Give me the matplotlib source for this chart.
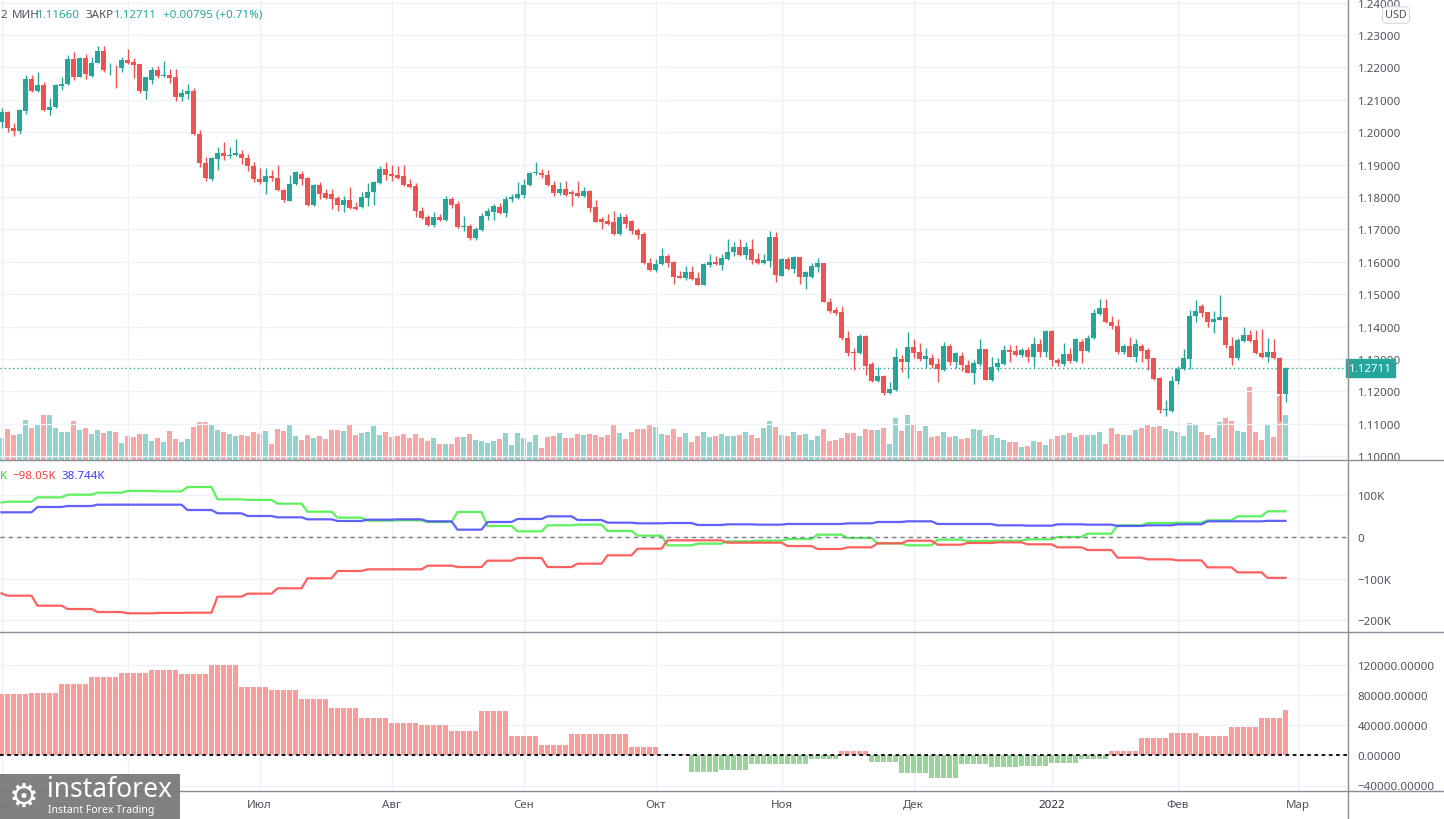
import matplotlib
matplotlib.use('Agg')
import matplotlib.pyplot as plt
from matplotlib.lines import Line2D
from matplotlib.patches import Rectangle
import numpy as np
import pandas as pd

plt.rcParams['font.family'] = ['Noto Sans', 'DejaVu Sans']

# EUR/USD daily bars, 3 May 2021 .. 25 Feb 2022
start_day = '2021-05-03'
opens = [
    1.2030, 1.2063, 1.2014, 1.2003, 1.2065, 1.2163, 1.2127, 1.2147, 1.2068, 1.2077,
    1.2142, 1.2149, 1.2225, 1.2170, 1.2228, 1.2173, 1.2215, 1.2250, 1.2191, 1.2193,
    1.2198, 1.2224, 1.2216, 1.2209, 1.2127, 1.2161, 1.2191, 1.2173, 1.2178, 1.2169,
    1.2108, 1.2119, 1.2126, 1.1995, 1.1906, 1.1855, 1.1917, 1.1937, 1.1926, 1.1929,
    1.1933, 1.1921, 1.1897, 1.1857, 1.1846, 1.1866, 1.1860, 1.1822, 1.1789, 1.1840,
    1.1870, 1.1860, 1.1775, 1.1836, 1.1811, 1.1808, 1.1797, 1.1775, 1.1791, 1.1770,
    1.1770, 1.1798, 1.1816, 1.1842, 1.1885, 1.1870, 1.1867, 1.1864, 1.1840, 1.1833,
    1.1758, 1.1737, 1.1715, 1.1737, 1.1729, 1.1795, 1.1777, 1.1707, 1.1709, 1.1672,
    1.1698, 1.1741, 1.1754, 1.1770, 1.1751, 1.1793, 1.1797, 1.1806, 1.1836, 1.1873,
    1.1875, 1.1869, 1.1838, 1.1813, 1.1826, 1.1815, 1.1811, 1.1803, 1.1818, 1.1768,
    1.1732, 1.1726, 1.1722, 1.1686, 1.1739, 1.1727, 1.1697, 1.1685, 1.1597, 1.1575,
    1.1592, 1.1619, 1.1598, 1.1556, 1.1551, 1.1570, 1.1549, 1.1529, 1.1590, 1.1598,
    1.1590, 1.1609, 1.1629, 1.1647, 1.1621, 1.1638, 1.1608, 1.1595, 1.1603, 1.1678,
    1.1557, 1.1608, 1.1578, 1.1614, 1.1553, 1.1554, 1.1583, 1.1595, 1.1477, 1.1451,
    1.1446, 1.1366, 1.1321, 1.1318, 1.1372, 1.1286, 1.1232, 1.1249, 1.1194, 1.1204,
    1.1300, 1.1292, 1.1338, 1.1321, 1.1300, 1.1302, 1.1285, 1.1266, 1.1341, 1.1292,
    1.1310, 1.1283, 1.1256, 1.1284, 1.1330, 1.1235, 1.1276, 1.1284, 1.1328, 1.1325,
    1.1312, 1.1328, 1.1306, 1.1345, 1.1323, 1.1387, 1.1297, 1.1286, 1.1314, 1.1294,
    1.1352, 1.1325, 1.1364, 1.1439, 1.1457, 1.1413, 1.1403, 1.1321, 1.1341, 1.1307,
    1.1341, 1.1328, 1.1302, 1.1242, 1.1142, 1.1139, 1.1232, 1.1269, 1.1300, 1.1434,
    1.1465, 1.1444, 1.1413, 1.1421, 1.1429, 1.1340, 1.1302, 1.1356, 1.1374, 1.1358,
    1.1318, 1.1305, 1.1323, 1.1302, 1.11916,
]
highs = [
    1.2076, 1.2065, 1.2027, 1.2073, 1.2176, 1.2178, 1.2185, 1.2156, 1.2107, 1.2150,
    1.2169, 1.2238, 1.2246, 1.2231, 1.2240, 1.2231, 1.2267, 1.2266, 1.2215, 1.2207,
    1.2233, 1.2256, 1.2228, 1.2211, 1.2170, 1.2202, 1.2204, 1.2220, 1.2195, 1.2194,
    1.2132, 1.2148, 1.2135, 1.2008, 1.1924, 1.1922, 1.1955, 1.1970, 1.1955, 1.1978,
    1.1945, 1.1934, 1.1909, 1.1888, 1.1888, 1.1883, 1.1898, 1.1824, 1.1867, 1.1881,
    1.1881, 1.1862, 1.1839, 1.1847, 1.1826, 1.1826, 1.1802, 1.1803, 1.1831, 1.1785,
    1.1816, 1.1842, 1.1849, 1.1895, 1.1909, 1.1899, 1.1896, 1.1900, 1.1857, 1.1842,
    1.1770, 1.1744, 1.1754, 1.1746, 1.1804, 1.1801, 1.1787, 1.1742, 1.1718, 1.1706,
    1.1752, 1.1765, 1.1777, 1.1782, 1.1804, 1.1810, 1.1845, 1.1857, 1.1878, 1.1908,
    1.1886, 1.1883, 1.1850, 1.1845, 1.1850, 1.1821, 1.1849, 1.1831, 1.1821, 1.1790,
    1.1737, 1.1749, 1.1756, 1.1752, 1.1749, 1.1729, 1.1703, 1.1691, 1.1611, 1.1608,
    1.1642, 1.1623, 1.1601, 1.1573, 1.1587, 1.1588, 1.1570, 1.1597, 1.1623, 1.1619,
    1.1623, 1.1670, 1.1660, 1.1670, 1.1662, 1.1670, 1.1626, 1.1625, 1.1695, 1.1691,
    1.1611, 1.1614, 1.1618, 1.1616, 1.1573, 1.1595, 1.1611, 1.1597, 1.1488, 1.1459,
    1.1465, 1.1385, 1.1333, 1.1376, 1.1374, 1.1292, 1.1276, 1.1251, 1.1230, 1.1333,
    1.1312, 1.1382, 1.1361, 1.1348, 1.1333, 1.1314, 1.1302, 1.1354, 1.1345, 1.1323,
    1.1321, 1.1297, 1.1297, 1.1361, 1.1332, 1.1305, 1.1302, 1.1343, 1.1343, 1.1343,
    1.1333, 1.1338, 1.1369, 1.1361, 1.1390, 1.1390, 1.1302, 1.1348, 1.1333, 1.1366,
    1.1362, 1.1374, 1.1455, 1.1485, 1.1485, 1.1433, 1.1423, 1.1345, 1.1369, 1.1361,
    1.1345, 1.1333, 1.1304, 1.1244, 1.1175, 1.1248, 1.1279, 1.1330, 1.1452, 1.1482,
    1.1469, 1.1446, 1.1449, 1.1498, 1.1431, 1.1369, 1.1366, 1.1398, 1.1388, 1.1388,
    1.1393, 1.1366, 1.1361, 1.1307, 1.1274,
]
lows = [
    1.2014, 1.2001, 1.1988, 1.1994, 1.2056, 1.2125, 1.2125, 1.2066, 1.2053, 1.2074,
    1.2130, 1.2147, 1.2161, 1.2169, 1.2164, 1.2171, 1.2213, 1.2185, 1.2176, 1.2135,
    1.2186, 1.2211, 1.2166, 1.2120, 1.2104, 1.2148, 1.2166, 1.2171, 1.2151, 1.2096,
    1.2096, 1.2102, 1.1992, 1.1892, 1.1849, 1.1849, 1.1883, 1.1914, 1.1919, 1.1927,
    1.1903, 1.1880, 1.1847, 1.1839, 1.1809, 1.1850, 1.1819, 1.1785, 1.1787, 1.1838,
    1.1836, 1.1773, 1.1773, 1.1795, 1.1793, 1.1764, 1.1756, 1.1754, 1.1764, 1.1759,
    1.1766, 1.1773, 1.1775, 1.1839, 1.1852, 1.1849, 1.1857, 1.1834, 1.1828, 1.1737,
    1.1732, 1.1710, 1.1706, 1.1726, 1.1727, 1.1767, 1.1704, 1.1695, 1.1667, 1.1667,
    1.1695, 1.1729, 1.1729, 1.1749, 1.1739, 1.1785, 1.1795, 1.1797, 1.1834, 1.1869,
    1.1859, 1.1834, 1.1803, 1.1806, 1.1804, 1.1772, 1.1801, 1.1800, 1.1754, 1.1722,
    1.1701, 1.1715, 1.1684, 1.1684, 1.1703, 1.1687, 1.1670, 1.1593, 1.1573, 1.1567,
    1.1590, 1.1584, 1.1532, 1.1549, 1.1544, 1.1545, 1.1527, 1.1527, 1.1585, 1.1591,
    1.1575, 1.1607, 1.1619, 1.1619, 1.1609, 1.1592, 1.1593, 1.1593, 1.1583, 1.1539,
    1.1555, 1.1576, 1.1565, 1.1532, 1.1516, 1.1551, 1.1570, 1.1475, 1.1443, 1.1436,
    1.1359, 1.1310, 1.1266, 1.1314, 1.1251, 1.1230, 1.1228, 1.1189, 1.1192, 1.1202,
    1.1261, 1.1240, 1.1302, 1.1293, 1.1271, 1.1271, 1.1230, 1.1263, 1.1281, 1.1271,
    1.1263, 1.1256, 1.1223, 1.1279, 1.1235, 1.1233, 1.1263, 1.1282, 1.1292, 1.1310,
    1.1307, 1.1292, 1.1276, 1.1307, 1.1307, 1.1279, 1.1279, 1.1279, 1.1287, 1.1292,
    1.1287, 1.1323, 1.1362, 1.1436, 1.1411, 1.1393, 1.1314, 1.1314, 1.1305, 1.1292,
    1.1292, 1.1266, 1.1236, 1.1132, 1.1125, 1.1137, 1.1222, 1.1267, 1.1269, 1.1415,
    1.1431, 1.1400, 1.1379, 1.1419, 1.1333, 1.1281, 1.1297, 1.1354, 1.1354, 1.1316,
    1.1303, 1.1292, 1.1300, 1.1108, 1.1166,
]
closes = [
    1.2063, 1.2013, 1.2003, 1.2067, 1.2163, 1.2127, 1.2147, 1.2068, 1.2079, 1.2147,
    1.2150, 1.2225, 1.2170, 1.2228, 1.2179, 1.2215, 1.2250, 1.2191, 1.2193, 1.2191,
    1.2224, 1.2213, 1.2207, 1.2127, 1.2169, 1.2191, 1.2173, 1.2178, 1.2168, 1.2108,
    1.2120, 1.2126, 1.1994, 1.1904, 1.1860, 1.1919, 1.1937, 1.1926, 1.1931, 1.1937,
    1.1921, 1.1895, 1.1855, 1.1846, 1.1866, 1.1858, 1.1821, 1.1790, 1.1841, 1.1878,
    1.1857, 1.1775, 1.1836, 1.1809, 1.1798, 1.1795, 1.1775, 1.1791, 1.1767, 1.1764,
    1.1800, 1.1816, 1.1845, 1.1885, 1.1867, 1.1864, 1.1860, 1.1836, 1.1831, 1.1757,
    1.1734, 1.1715, 1.1737, 1.1728, 1.1795, 1.1775, 1.1706, 1.1710, 1.1672, 1.1701,
    1.1742, 1.1756, 1.1772, 1.1751, 1.1795, 1.1799, 1.1808, 1.1838, 1.1875, 1.1878,
    1.1867, 1.1836, 1.1813, 1.1826, 1.1806, 1.1810, 1.1803, 1.1818, 1.1765, 1.1724,
    1.1724, 1.1718, 1.1686, 1.1739, 1.1718, 1.1696, 1.1683, 1.1595, 1.1575, 1.1594,
    1.1619, 1.1596, 1.1554, 1.1551, 1.1570, 1.1547, 1.1529, 1.1592, 1.1598, 1.1593,
    1.1611, 1.1631, 1.1647, 1.1621, 1.1645, 1.1605, 1.1595, 1.1605, 1.1678, 1.1559,
    1.1608, 1.1578, 1.1614, 1.1554, 1.1568, 1.1587, 1.1595, 1.1477, 1.1448, 1.1443,
    1.1364, 1.1318, 1.1318, 1.1372, 1.1279, 1.1232, 1.1249, 1.1194, 1.1206, 1.1307,
    1.1292, 1.1338, 1.1318, 1.1300, 1.1308, 1.1281, 1.1269, 1.1341, 1.1292, 1.1318,
    1.1283, 1.1258, 1.1287, 1.1330, 1.1235, 1.1276, 1.1287, 1.1328, 1.1323, 1.1312,
    1.1327, 1.1307, 1.1345, 1.1323, 1.1387, 1.1297, 1.1287, 1.1314, 1.1295, 1.1362,
    1.1325, 1.1366, 1.1441, 1.1457, 1.1413, 1.1402, 1.1321, 1.1341, 1.1307, 1.1345,
    1.1325, 1.1300, 1.1238, 1.1142, 1.1147, 1.1233, 1.1269, 1.1302, 1.1434, 1.1449,
    1.1443, 1.1413, 1.1423, 1.1429, 1.1343, 1.1302, 1.1358, 1.1374, 1.1356, 1.1318,
    1.1305, 1.1323, 1.1302, 1.11916, 1.12711,
]
volume = [
    22, 31, 25, 26, 40, 32, 35, 45, 45, 32,
    28, 28, 39, 30, 32, 26, 30, 27, 29, 28,
    17, 24, 23, 26, 26, 19, 22, 18, 29, 21,
    18, 21, 33, 38, 38, 35, 30, 28, 26, 24,
    25, 24, 28, 26, 29, 16, 31, 29, 36, 24,
    20, 25, 22, 24, 21, 30, 30, 29, 36, 25,
    27, 28, 34, 25, 28, 23, 24, 26, 22, 26,
    22, 19, 22, 16, 16, 16, 23, 23, 26, 20,
    19, 17, 19, 21, 27, 15, 27, 22, 18, 25,
    12, 23, 24, 27, 22, 22, 26, 25, 26, 25,
    23, 25, 36, 27, 21, 28, 31, 31, 36, 33,
    26, 25, 31, 23, 27, 18, 24, 28, 23, 24,
    26, 24, 24, 25, 28, 25, 22, 32, 39, 33,
    25, 24, 28, 25, 26, 20, 24, 31, 19, 20,
    22, 27, 27, 24, 31, 30, 30, 32, 16, 42,
    29, 45, 35, 29, 34, 23, 24, 28, 23, 24,
    21, 22, 31, 30, 24, 25, 22, 20, 18, 18,
    13, 14, 19, 18, 15, 21, 24, 25, 27, 23,
    25, 25, 25, 28, 16, 32, 26, 25, 25, 30,
    32, 35, 33, 34, 31, 29, 28, 24, 37, 35,
    28, 25, 22, 38, 42, 39, 29, 28, 73, 28,
    20, 35, 23, 64, 45,
]

# COT positions, thousands of contracts, one value per report week (Tue..Mon)
cot_green = [83.0, 84.7, 95.1, 101.5, 106.3, 110.3, 109.5, 119.9, 90.3, 89.0,
             80.0, 60.7, 46.4, 39.2, 40.0, 36.0, 60.0, 26.4, 13.6, 28.0,
             29.6, 14.4, 3.2, -20.0, -16.0, -10.4, -8.8, -4.8, 5.6, -2.4,
             -15.2, -20.0, -6.4, -9.6, -8.8, -5.6, 0.0, 8.0, 28.0, 33.6,
             34.4, 40.0, 49.6, 61.6]
cot_red = [-135.0, -140.7, -164.7, -172.7, -179.9, -183.0, -182.0, -181.5, -143.0, -135.9,
           -123.0, -99.0, -81.5, -77.5, -77.6, -68.8, -72.0, -56.8, -50.4, -72.0,
           -64.0, -44.0, -28.0, -8.0, -8.0, -13.6, -13.6, -21.6, -28.8, -24.8,
           -15.2, -8.8, -18.4, -14.4, -12.8, -17.6, -24.8, -31.2, -49.6, -53.6,
           -56.0, -72.8, -84.8, -98.05]
cot_blue = [59.2, 59.2, 72.0, 74.3, 77.5, 77.5, 77.5, 64.7, 56.8, 50.4,
            47.2, 42.4, 38.4, 41.6, 42.4, 37.6, 17.6, 36.0, 43.2, 49.6,
            40.8, 34.4, 32.8, 33.6, 28.8, 30.4, 29.6, 31.2, 31.2, 32.8,
            36.0, 37.6, 31.2, 31.2, 28.0, 27.2, 30.4, 29.6, 26.4, 28.0,
            30.4, 37.6, 37.6, 38.744]
cot_days = [1] + [5] * 42 + [4]

# lower histogram, thousands, one value per calendar week (Mon..Fri)
hist_week = [81.0, 82.3, 94.2, 103.4, 108.7, 112.6, 107.4, 119.2, 90.2, 86.2,
             74.4, 62.5, 49.3, 42.7, 40.0, 32.1, 58.5, 25.5, 13.6, 28.2,
             28.2, 11.0, 1.8, -21.6, -18.9, -11.0, -11.0, -4.4, 5.7, -8.4,
             -22.9, -29.5, -11.0, -15.0, -13.6, -9.7, -4.4, 5.7, 22.9, 29.5,
             25.5, 37.4, 49.3, 59.8]
hist_days = [5] * 42 + [4, 1]

month_names = {5: 'Май', 6: 'Июн', 7: 'Июл', 8: 'Авг', 9: 'Сен', 10: 'Окт',
               11: 'Ноя', 12: 'Дек', 1: '2022', 2: 'Фев', 3: 'Мар'}

UP, DOWN = '#26a69a', '#ef5350'
VOL_UP, VOL_DOWN = '#93d3cd', '#f7a7a5'
GRID = '#eef1f7'
TXT = '#50535e'
SEP = '#8a8d96'

W, H = 1444, 820
AXW = 1348 / W


def pane(top, bottom):
    return fig.add_axes([0, 1 - bottom / H, AXW, (bottom - top) / H])


o = np.array(opens); h = np.array(highs); l = np.array(lows); c = np.array(closes)
n = len(c)
idx = np.arange(n)
up = c >= o

dates = pd.bdate_range(start_day, '2022-03-31')
mpos = [0] + [i for i in range(1, len(dates)) if dates[i].month != dates[i - 1].month]
mlab = [month_names[dates[i].month] for i in mpos]

fig = plt.figure(figsize=(W / 100, H / 100), dpi=100)
xl = (-0.25, 1348 / 6 - 0.25)

# ---- price pane
ax = pane(0, 461)
vax = ax.twinx()
vax.bar(idx, volume, width=0.78, color=np.where(up, VOL_UP, VOL_DOWN), zorder=1)
vax.set_ylim(0, 461)
vax.set_yticks([])
ax.set_zorder(vax.get_zorder() + 1)
ax.patch.set_visible(False)
vax.patch.set_facecolor('white')

ax.vlines(idx, l, h, colors=np.where(up, UP, DOWN), lw=1, zorder=3)
ax.bar(idx, np.maximum(np.abs(c - o), 0.00008), bottom=np.minimum(o, c), width=0.72,
       color=np.where(up, UP, DOWN), zorder=4)
ax.set_ylim(1.23 - (461 - 36) / 3240, 1.23 + 36 / 3240)
ax.set_yticks(np.arange(1.10, 1.2401, 0.01))
ax.set_yticklabels(['%.5f' % v for v in np.arange(1.10, 1.2401, 0.01)])
ax.axhline(c[-1], color=UP, lw=1, ls=(0, (1, 2)), zorder=2)
ax.text(1.0 + 1 / 1348, c[-1], '%.5f' % c[-1], transform=ax.get_yaxis_transform(),
        color='white', fontsize=8.3, fontweight='bold', va='center', ha='left', zorder=10,
        clip_on=False,
        bbox=dict(boxstyle='square,pad=0.3', fc=UP, ec=UP))

# ---- COT pane
ax2 = pane(461, 632.5)
g = np.repeat(cot_green, cot_days)
r = np.repeat(cot_red, cot_days)
b = np.repeat(cot_blue, cot_days)
ax2.plot(idx, g, color='#4cf04c', lw=1.6, alpha=0.9)
ax2.plot(idx, r, color='#ff4f4f', lw=1.6, alpha=0.9)
ax2.plot(idx, b, color='#4f4fff', lw=1.6, alpha=0.9)
ax2.axhline(0, color='#787b86', lw=1, ls=(0, (3, 3)))
ax2.set_ylim((538 - 632.5) / 0.417, (538 - 461) / 0.417)
ax2.set_yticks([100, 0, -100, -200])
ax2.set_yticklabels(['100K', '0', '\u2212100K', '\u2212200K'])

# ---- histogram pane
ax3 = pane(632.5, 792)
hv = np.repeat(hist_week, hist_days) * 1000
ax3.bar(idx, hv, width=0.8, color=np.where(hv >= 0, '#f99d9b', '#99d49a'))
ax3.axhline(0, color='black', lw=1.3, ls=(0, (2, 2)))
ax3.set_ylim((756.3 - 792) / 0.755 * 1000, (756.3 - 632.5) / 0.755 * 1000)
hticks = [-40000, 0, 40000, 80000, 120000]
ax3.set_yticks(hticks)
ax3.set_yticklabels([('%.5f' % v).replace('-', '\u2212') for v in hticks])

for a in (ax, ax2, ax3):
    a.set_xlim(*xl)
    for s in a.spines.values():
        s.set_visible(False)
    a.yaxis.tick_right()
    a.tick_params(axis='y', length=0, pad=7, labelsize=8.3, labelcolor=TXT)
    a.set_xticks(mpos)
    a.grid(True, color=GRID, lw=1, zorder=0)
    a.set_axisbelow(True)
for s in vax.spines.values():
    s.set_visible(False)
vax.set_xlim(*xl)
ax.tick_params(axis='x', length=0, labelbottom=False)
ax2.tick_params(axis='x', length=0, labelbottom=False)
ax3.set_xticklabels(mlab)
ax3.tick_params(axis='x', length=0, pad=6, labelsize=8.3, labelcolor=TXT)
for t in ax3.get_xticklabels():
    if t.get_text() == '2022':
        t.set_fontweight('bold')
        t.set_color('#2a2e39')

# separators and right axis border
for y in (461, 632.5, 792):
    fig.add_artist(Line2D([0, 1], [1 - y / H] * 2, color=SEP, lw=1, transform=fig.transFigure))
fig.add_artist(Line2D([AXW] * 2, [0, 1], color=SEP, lw=1, transform=fig.transFigure))

# legend texts
for txt, col, xp in [('2', TXT, 0), ('МИН', TXT, 12), ('1.11660', UP, 37),
                     ('ЗАКР', TXT, 86), ('1.12711', UP, 114),
                     ('+0.00795 (+0.71%)', UP, 163)]:
    fig.text(xp / W, 1 - 15 / H, txt, color=col, fontsize=8.3, va='center', ha='left')
for txt, col, xp in [('K', '#33dd33', 0), ('\u221298.05K', '#ff3b3b', 12), ('38.744K', '#3b3bff', 61)]:
    fig.text(xp / W, 1 - 477 / H, txt, color=col, fontsize=8.3, va='center', ha='left')

fig.text(1396 / W, 1 - 16 / H, 'USD', color=TXT, fontsize=7.8, ha='center', va='center',
         bbox=dict(boxstyle='round,pad=0.25,rounding_size=0.4', fc='white', ec='#d1d4dc', lw=0.8))

# logo
fig.add_artist(Rectangle((0, 0), 180 / W, 45 / H, transform=fig.transFigure,
                         fc='#7a7a7a', ec='none', alpha=0.95, zorder=20))
fig.text(24 / W, 1 - 797 / H, '\u2699', color='white', fontsize=24, family='DejaVu Sans',
         ha='center', va='center', zorder=21)
fig.text(47 / W, 1 - 790 / H, 'instaforex', color='white', fontsize=19, ha='left',
         va='center', zorder=21)
fig.text(48 / W, 1 - 811 / H, 'Instant Forex Trading', color='white', fontsize=7.5,
         ha='left', va='center', zorder=21)

fig.savefig('out.png', dpi=100, facecolor='white')
